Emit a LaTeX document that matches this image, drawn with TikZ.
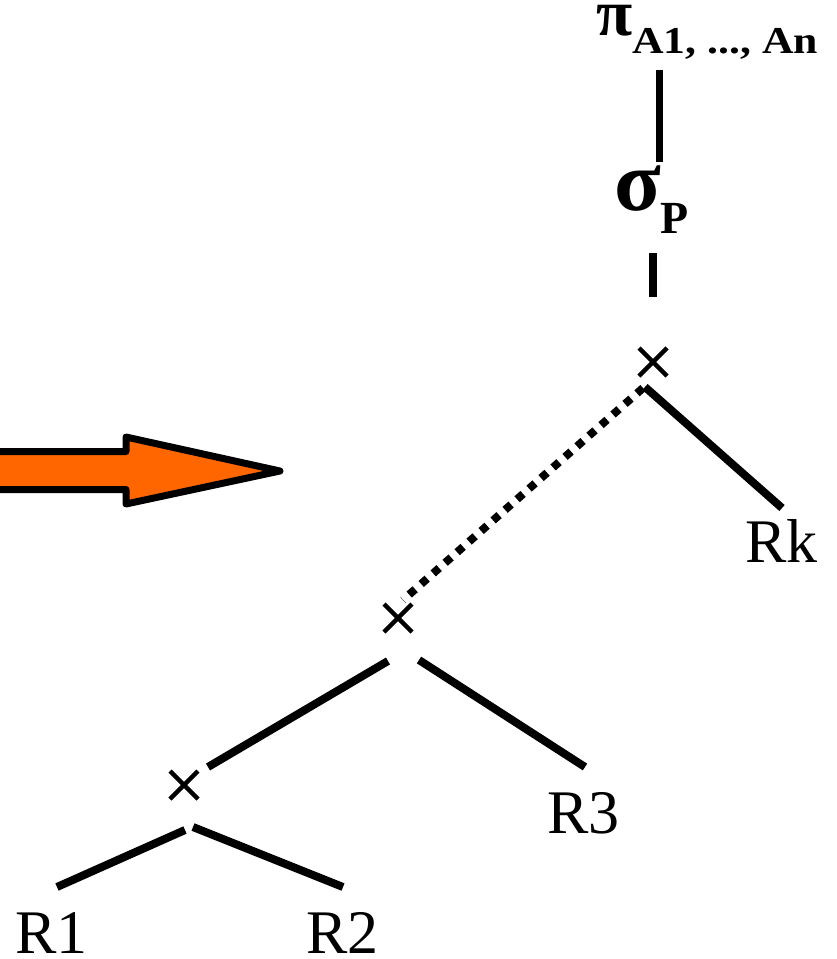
\documentclass[tikz,border=0pt]{standalone}
\usepackage{fontspec}
\setmainfont{Liberation Serif}
\definecolor{arroworange}{RGB}{255,102,0}
\begin{document}
\begin{tikzpicture}[x=1pt,y=-1pt,
  edge/.style={line width=8pt},
  dotedge/.style={line width=8pt, dash pattern=on 8pt off 8pt},
  xnode/.style={shape=rectangle, minimum size=28pt, inner sep=0pt, outer sep=0pt},
  xstroke/.style={line width=4.5pt},
  rel/.style={font=\fontsize{62}{62}\selectfont, inner sep=0pt, anchor=base},
  opl/.style={inner sep=0pt, anchor=base west},
]
\useasboundingbox (0,0) rectangle (837,959);

% big orange arrow
\draw[line width=7pt, line join=round, fill=arroworange]
  (-30,451.5) -- (126,451.5) -- (126,437) -- (280,471) -- (126,504) -- (126,489.5) -- (-30,489.5) -- cycle;

% operator labels
\node[opl] (pi) at (596,35) {\bfseries\fontsize{66}{66}\selectfont π\fontsize{38}{38}\selectfont\raisebox{-18pt}{\scalebox{1.15}[1]{A1, ..., An}}};
\node[opl] (sigma) at (614,210) {\bfseries\fontsize{86}{86}\selectfont σ\fontsize{46}{46}\selectfont\raisebox{-23pt}{P}};

% cross products
\node[xnode] (x1) at (653,362) {};
\node[xnode] (x2) at (398,618) {};
\node[xnode] (x3) at (184,785) {};
\foreach \n in {x1,x2,x3}{
  \draw[xstroke] (\n.north west) -- (\n.south east) (\n.north east) -- (\n.south west);
}

% relations
\node[rel] (Rk) at (781.5,562) {Rk};
\node[rel] (R3) at (583.5,833) {R3};
\node[rel] (R1) at (51.5,953) {R1};
\node[rel] (R2) at (342.5,953) {R2};

% connector end points
\coordinate (pia) at (659,70);   \coordinate (sga) at (659,162);
\coordinate (sgb) at (653,253);  \coordinate (x1a) at (653,297);
\coordinate (x1r) at (645,387);  \coordinate (Rka) at (782,508);
\coordinate (x1l) at (643,388);  \coordinate (x2t) at (403,600);
\coordinate (x2l) at (388,661);  \coordinate (x3t) at (208,767);
\coordinate (x2r) at (419,660);  \coordinate (R3a) at (585,767);
\coordinate (x3l) at (185,830);  \coordinate (R1a) at (57,887);
\coordinate (x3r) at (193,827);  \coordinate (R2a) at (343,887);

\draw[line width=7pt] (pia) -- (sga);
\draw[edge] (sgb) -- (x1a);
\draw[edge] (x1r) -- (Rka);
\draw[dotedge] (x1l) -- (x2t);
\draw[edge] (x2l) -- (x3t);
\draw[edge] (x2r) -- (R3a);
\draw[edge] (x3l) -- (R1a);
\draw[edge] (x3r) -- (R2a);
\end{tikzpicture}
\end{document}
